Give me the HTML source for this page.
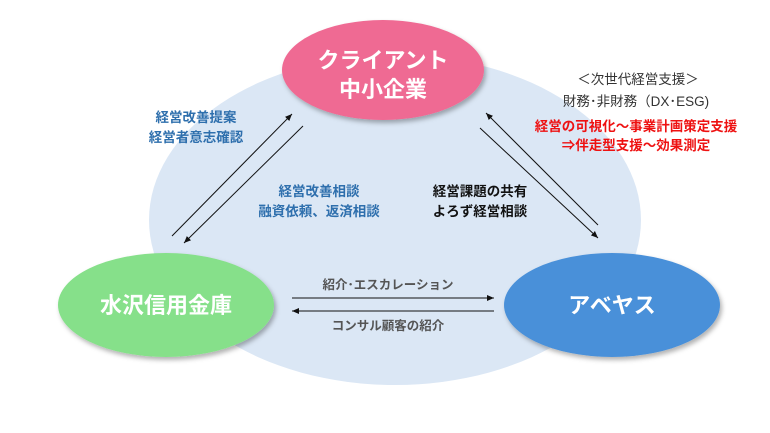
<!DOCTYPE html>
<html><head><meta charset="utf-8"><style>
body{margin:0;background:#fff}
svg{display:block}
text{font-family:"Liberation Sans","Noto Sans CJK JP",sans-serif;text-anchor:middle}
</style></head><body>
<svg width="770" height="433" viewBox="0 0 770 433">
<defs>
<marker id="a" markerWidth="8" markerHeight="8" refX="7" refY="4" orient="auto" markerUnits="userSpaceOnUse"><path d="M0,1 L7,4 L0,7 z" fill="#111"/></marker>
<filter id="s" x="-20%" y="-20%" width="140%" height="150%"><feDropShadow dx="2" dy="3" stdDeviation="2.5" flood-color="#000" flood-opacity="0.3"/></filter>
</defs>
<ellipse cx="395" cy="220" rx="246" ry="165" fill="#dbe7f5"/>
<ellipse cx="383" cy="70" rx="101" ry="50" fill="#ef6a93" filter="url(#s)"/>
<ellipse cx="166" cy="305" rx="108" ry="52" fill="#86e08a" filter="url(#s)"/>
<ellipse cx="612" cy="305" rx="108" ry="52" fill="#4a90d9" filter="url(#s)"/>
<g stroke="#111" stroke-width="1" marker-end="url(#a)">
<line x1="172" y1="236" x2="292" y2="114"/>
<line x1="303" y1="126" x2="184" y2="243"/>
<line x1="598" y1="225" x2="486" y2="113"/>
<line x1="480" y1="128" x2="598" y2="238"/>
<line x1="292" y1="298" x2="494" y2="298"/>
<line x1="494" y1="311" x2="292" y2="311"/>
</g>
<g fill="#fff" font-weight="bold" font-size="22">
<text x="383" y="68">クライアント</text>
<text x="383" y="97">中小企業</text>
<text x="166" y="313">水沢信用金庫</text>
<text x="612" y="313">アベヤス</text>
</g>
<g fill="#2e6fad" font-weight="bold" font-size="13.5">
<text x="196" y="122">経営改善提案</text>
<text x="196" y="142">経営者意志確認</text>
<text x="319" y="196">経営改善相談</text>
<text x="319" y="216">融資依頼、返済相談</text>
</g>
<g fill="#111" font-weight="bold" font-size="13.5">
<text x="480" y="196">経営課題の共有</text>
<text x="480" y="216">よろず経営相談</text>
</g>
<g fill="#333" font-size="13.5">
<text x="638" y="84">＜次世代経営支援＞</text>
<text x="636" y="106">財務･非財務（DX･ESG)</text>
</g>
<g fill="#ee1111" font-weight="bold" font-size="13.5">
<text x="636" y="131">経営の可視化～事業計画策定支援</text>
<text x="636" y="150">⇒伴走型支援～効果測定</text>
</g>
<g fill="#555" font-weight="bold" font-size="12.5">
<text x="388" y="289">紹介･エスカレーション</text>
<text x="388" y="330">コンサル顧客の紹介</text>
</g>
</svg>
</body></html>
